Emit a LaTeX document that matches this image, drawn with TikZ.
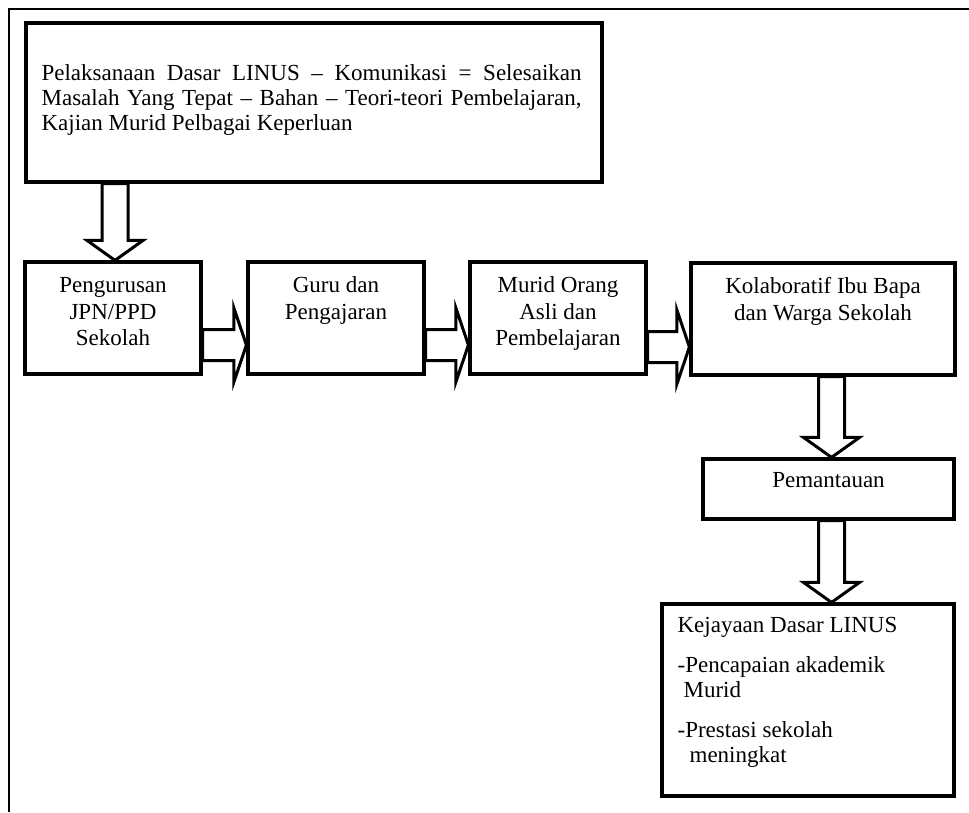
\documentclass[tikz,border=0pt]{standalone}
\usepackage{fontspec}
\setmainfont{Liberation Serif}
\usetikzlibrary{calc,fit}
\tikzset{
  box/.style={draw, line width=3.2pt, inner sep=0pt, rectangle},
  blockarrow/.style={draw, line width=3pt, fill=white, line join=miter},
  rowtext/.style={inner sep=0pt, anchor=north, align=center, font=\fontsize{23}{26.5}\selectfont},
}
\newcommand\myHArrow[3]{%
  \draw[blockarrow] let \p1=(#1.east), \p2=(#2.west) in
    (\x1,{-(#3-15.5)*1pt}) -- ({\x2-12.5pt},{-(#3-15.5)*1pt}) -- ({\x2-12.5pt},{-(#3-37)*1pt})
    -- (\x2,{-#3*1pt}) -- ({\x2-12.5pt},{-(#3+37)*1pt}) -- ({\x2-12.5pt},{-(#3+15.5)*1pt})
    -- (\x1,{-(#3+15.5)*1pt}) -- cycle;}
\newcommand\myVArrow[3]{%
  \draw[blockarrow] let \p1=(#1.south), \p2=(#2.north) in
    ({(#3-13)*1pt},\y1) -- ({(#3-13)*1pt},{\y2+20pt}) -- ({(#3-28)*1pt},{\y2+20pt})
    -- ({#3*1pt},\y2) -- ({(#3+28)*1pt},{\y2+20pt}) -- ({(#3+13)*1pt},{\y2+20pt})
    -- ({(#3+13)*1pt},\y1) -- cycle;}
\begin{document}
\begin{tikzpicture}[x=1pt,y=-1pt]
\useasboundingbox (0,0) rectangle (969,812);
\fill[white] (0,0) rectangle (969,812);
% outer frame (only top and left edges visible)
\draw[line width=2.4pt] (9,812) -- (9,9) -- (969,9);
% boxes
\node[box, fit={(26,23) (602,182)}] (topbox) {};
\node[box, fit={(25,262) (201,374)}] (b1) {};
\node[box, fit={(248,262) (424,374)}] (b2) {};
\node[box, fit={(470,262) (646,374)}] (b3) {};
\node[box, fit={(691,263) (955,375)}] (b4) {};
\node[box, fit={(703,459) (954,519)}] (pem) {};
\node[box, fit={(662,604) (954,796)}] (kej) {};
% texts
\node[inner sep=0pt, anchor=north west, text width=540pt, align=justify,
      font=\fontsize{23}{25}\selectfont] (toptext) at ($(topbox.north west)+(17,41.2)$)
  {\hyphenpenalty=10000\strut Pelaksanaan Dasar LINUS – Komunikasi = Selesaikan\linebreak
   Masalah Yang Tepat – Bahan – Teori-teori Pembelajaran,\linebreak
   Kajian Murid Pelbagai Keperluan};
\node[rowtext] (t1) at ($(b1.north)+(0,13.5)$) {\strut Pengurusan\\JPN/PPD\\Sekolah};
\node[rowtext] (t2) at ($(b2.north)+(0,13.5)$) {\strut Guru dan\\Pengajaran};
\node[rowtext] (t3) at ($(b3.north)+(0,13.5)$) {\strut Murid Orang\\Asli dan\\Pembelajaran};
\node[rowtext] (t4) at ($(b4.north)+(0,13.5)$) {\strut Kolaboratif Ibu Bapa\\dan Warga Sekolah};
\node[inner sep=0pt, anchor=base, font=\fontsize{23}{26.5}\selectfont] (tpem) at ($(pem.north)+(0,30)$) {Pemantauan};
\node[inner sep=0pt, anchor=north west, align=left, font=\fontsize{23}{25.5}\selectfont] (tkej)
  at ($(kej.north west)+(17,12.5)$)
  {\strut Kejayaan Dasar LINUS\\[14pt]
   -Pencapaian akademik\\
   \hspace*{6pt}Murid\\[14pt]
   -Prestasi sekolah\\
   \hspace*{12pt}meningkat};
% block arrows
\myVArrow{topbox}{b1}{115}
\myHArrow{b1}{b2}{345}
\myHArrow{b2}{b3}{345}
\myHArrow{b3}{b4}{347}
\myVArrow{b4}{pem}{831.5}
\myVArrow{pem}{kej}{831.5}
\end{tikzpicture}
\end{document}
